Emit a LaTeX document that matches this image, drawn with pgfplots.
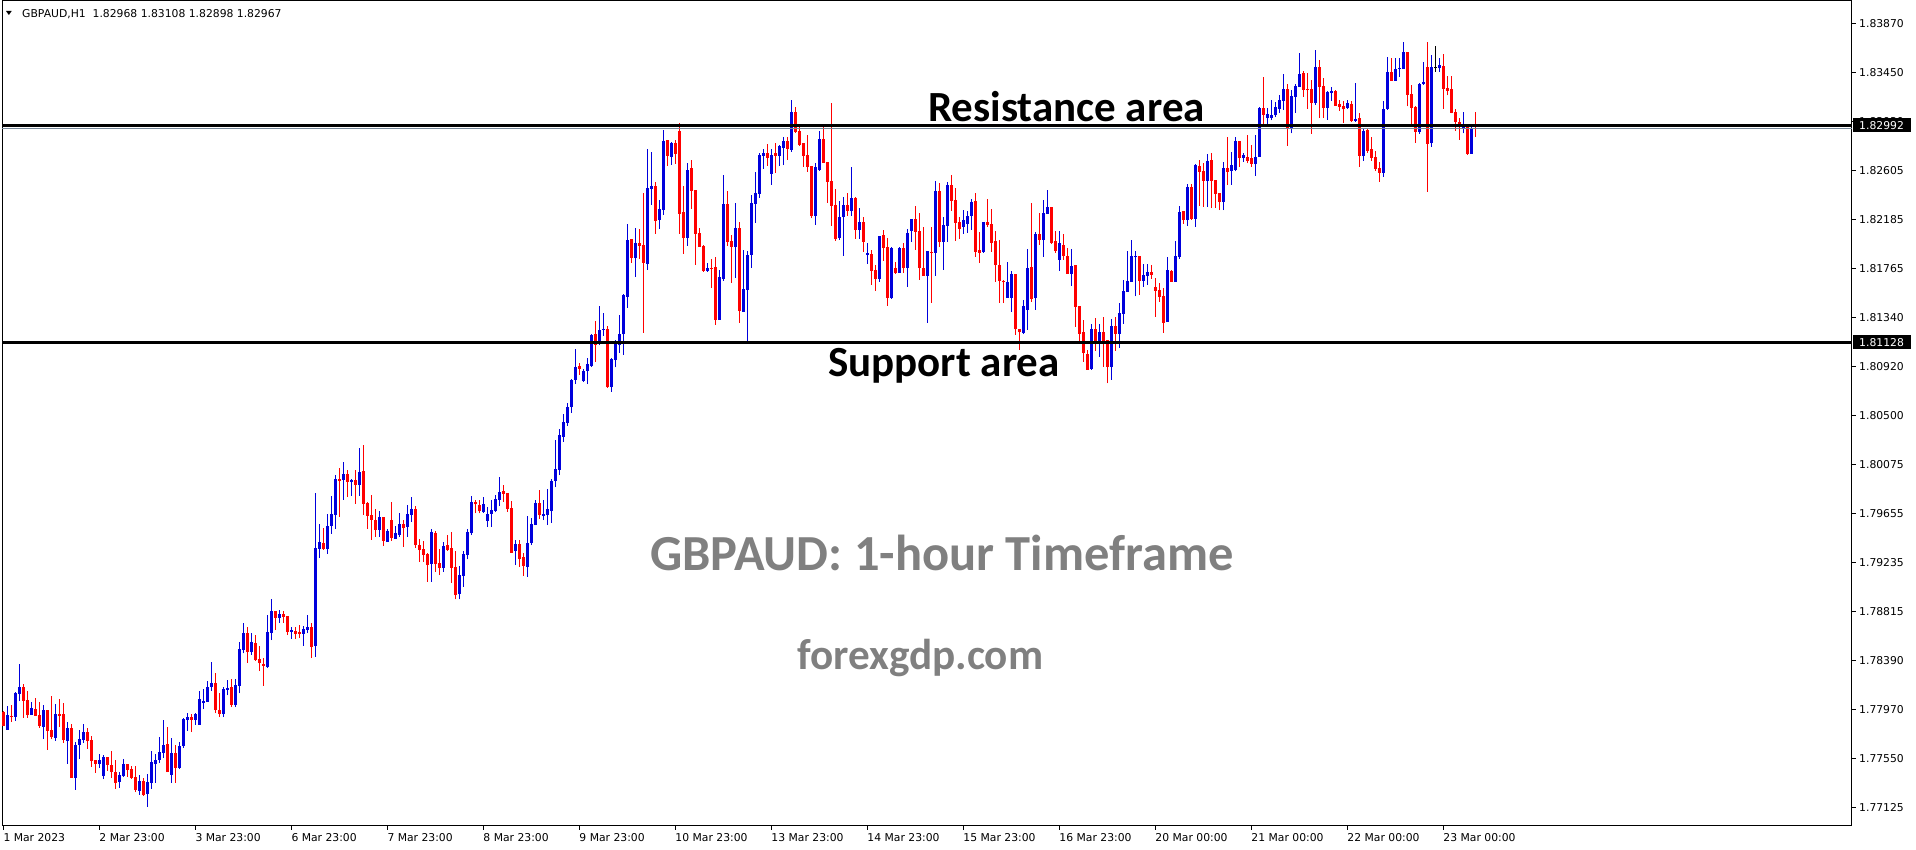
\documentclass[border=0pt]{standalone}
\usepackage{pgfplots}
\usepackage{pgfplotstable}
\pgfplotsset{compat=1.18}
\usepackage{fontspec}
\setmainfont{DejaVu Sans}
\newfontfamily\labelfont{Carlito}
\definecolor{upc}{RGB}{0,0,220}
\definecolor{dnc}{RGB}{255,0,0}
\definecolor{bidc}{RGB}{119,136,153}
\definecolor{wmark}{RGB}{128,128,128}

% GBPAUD H1 bars: index, open, high, low, close
\pgfplotstableread{
i o h l c
0 1.77951 1.77960 1.77828 1.77828
1 1.77794 1.78000 1.77794 1.77923
2 1.77917 1.78009 1.77865 1.77905
3 1.77908 1.78123 1.77874 1.78115
4 1.78103 1.78361 1.78046 1.78164
5 1.78164 1.78189 1.77900 1.78046
6 1.78052 1.78129 1.77900 1.77923
7 1.77923 1.78035 1.77923 1.77980
8 1.77974 1.78069 1.77917 1.77917
9 1.77923 1.78035 1.77814 1.77828
10 1.77822 1.78009 1.77716 1.77966
11 1.77966 1.77966 1.77622 1.77788
12 1.77794 1.78086 1.77713 1.77733
13 1.77728 1.78017 1.77702 1.77931
14 1.77931 1.78058 1.77822 1.77914
15 1.77931 1.78026 1.77685 1.77708
16 1.77702 1.77862 1.77504 1.77811
17 1.77811 1.77845 1.77384 1.77384
18 1.77384 1.77690 1.77280 1.77665
19 1.77665 1.77794 1.77544 1.77716
20 1.77708 1.77845 1.77685 1.77776
21 1.77776 1.77811 1.77633 1.77699
22 1.77708 1.77742 1.77478 1.77527
23 1.77535 1.77535 1.77427 1.77501
24 1.77501 1.77584 1.77470 1.77535
25 1.77398 1.77576 1.77372 1.77561
26 1.77561 1.77561 1.77444 1.77493
27 1.77493 1.77613 1.77384 1.77432
28 1.77432 1.77535 1.77289 1.77341
29 1.77349 1.77435 1.77297 1.77407
30 1.77398 1.77544 1.77392 1.77501
31 1.77501 1.77501 1.77392 1.77450
32 1.77458 1.77484 1.77372 1.77384
33 1.77389 1.77484 1.77260 1.77277
34 1.77272 1.77407 1.77237 1.77355
35 1.77355 1.77381 1.77229 1.77237
36 1.77243 1.77418 1.77134 1.77346
37 1.77341 1.77613 1.77289 1.77518
38 1.77501 1.77587 1.77341 1.77535
39 1.77535 1.77733 1.77513 1.77604
40 1.77599 1.77880 1.77553 1.77665
41 1.77673 1.77819 1.77432 1.77432
42 1.77407 1.77725 1.77341 1.77596
43 1.77596 1.77665 1.77341 1.77467
44 1.77467 1.77690 1.77458 1.77656
45 1.77656 1.77897 1.77639 1.77888
46 1.77880 1.77940 1.77788 1.77905
47 1.77905 1.77931 1.77776 1.77880
48 1.77880 1.77940 1.77837 1.77931
49 1.77837 1.78129 1.77837 1.78060
50 1.78026 1.78146 1.77974 1.78043
51 1.78035 1.78215 1.78035 1.78164
52 1.78164 1.78382 1.78132 1.78198
53 1.78198 1.78287 1.77940 1.77970
54 1.77970 1.78115 1.77905 1.77930
55 1.77930 1.78164 1.77905 1.78149
56 1.78141 1.78224 1.78092 1.78158
57 1.78164 1.78230 1.77990 1.78010
58 1.78010 1.78230 1.77990 1.78181
59 1.78175 1.78554 1.78109 1.78491
60 1.78482 1.78717 1.78453 1.78631
61 1.78631 1.78680 1.78373 1.78468
62 1.78468 1.78631 1.78439 1.78551
63 1.78542 1.78611 1.78390 1.78396
64 1.78405 1.78519 1.78301 1.78368
65 1.78365 1.78411 1.78173 1.78345
66 1.78336 1.78783 1.78327 1.78637
67 1.78631 1.78921 1.78568 1.78818
68 1.78818 1.78818 1.78654 1.78760
69 1.78760 1.78826 1.78717 1.78792
70 1.78792 1.78821 1.78717 1.78769
71 1.78775 1.78775 1.78611 1.78640
72 1.78640 1.78677 1.78577 1.78654
73 1.78646 1.78683 1.78577 1.78623
74 1.78637 1.78697 1.78585 1.78623
75 1.78623 1.78692 1.78519 1.78663
76 1.78657 1.78783 1.78628 1.78680
77 1.78680 1.78717 1.78413 1.78511
78 1.78519 1.79836 1.78425 1.79363
79 1.79354 1.79566 1.79277 1.79411
80 1.79403 1.79532 1.79343 1.79351
81 1.79354 1.79655 1.79311 1.79549
82 1.79549 1.79810 1.79483 1.79655
83 1.79647 1.79991 1.79526 1.79953
84 1.79953 1.80048 1.79629 1.79939
85 1.79948 1.80100 1.79776 1.79999
86 1.79999 1.80034 1.79801 1.79931
87 1.79931 1.79956 1.79810 1.79948
88 1.79948 1.80034 1.79741 1.79902
89 1.79905 1.80223 1.79810 1.80017
90 1.80025 1.80249 1.79647 1.79741
91 1.79750 1.79758 1.79526 1.79638
92 1.79644 1.79819 1.79431 1.79604
93 1.79604 1.79698 1.79457 1.79518
94 1.79518 1.79681 1.79457 1.79626
95 1.79626 1.79626 1.79380 1.79423
96 1.79414 1.79526 1.79414 1.79509
97 1.79601 1.79758 1.79423 1.79449
98 1.79440 1.79552 1.79440 1.79492
99 1.79472 1.79664 1.79457 1.79566
100 1.79569 1.79604 1.79371 1.79535
101 1.79543 1.79730 1.79457 1.79655
102 1.79643 1.79798 1.79586 1.79692
103 1.79692 1.79720 1.79362 1.79385
104 1.79385 1.79439 1.79242 1.79342
105 1.79348 1.79422 1.79242 1.79299
106 1.79308 1.79319 1.79069 1.79213
107 1.79221 1.79525 1.79069 1.79497
108 1.79488 1.79505 1.79155 1.79221
109 1.79230 1.79348 1.79127 1.79190
110 1.79190 1.79411 1.79155 1.79376
111 1.79385 1.79468 1.79336 1.79342
112 1.79359 1.79497 1.79061 1.79190
113 1.79196 1.79336 1.78917 1.78955
114 1.78963 1.79207 1.78917 1.79127
115 1.79121 1.79336 1.79027 1.79308
116 1.79299 1.79525 1.79262 1.79497
117 1.79485 1.79806 1.79471 1.79758
118 1.79758 1.79772 1.79657 1.79735
119 1.79729 1.79772 1.79657 1.79677
120 1.79666 1.79798 1.79663 1.79738
121 1.79594 1.79715 1.79543 1.79652
122 1.79652 1.79772 1.79543 1.79686
123 1.79680 1.79815 1.79666 1.79781
124 1.79772 1.79973 1.79720 1.79841
125 1.79850 1.79901 1.79758 1.79824
126 1.79830 1.79830 1.79672 1.79695
127 1.79703 1.79766 1.79319 1.79319
128 1.79336 1.79428 1.79213 1.79394
129 1.79394 1.79428 1.79198 1.79264
130 1.79282 1.79316 1.79118 1.79204
131 1.79196 1.79634 1.79113 1.79402
132 1.79402 1.79617 1.79385 1.79566
133 1.79557 1.79772 1.79557 1.79746
134 1.79746 1.79858 1.79609 1.79643
135 1.79634 1.79772 1.79600 1.79652
136 1.79643 1.79867 1.79557 1.79695
137 1.79677 1.79953 1.79577 1.79936
138 1.79936 1.80288 1.79884 1.80039
139 1.80030 1.80383 1.79987 1.80331
140 1.80317 1.80512 1.80274 1.80443
141 1.80437 1.80607 1.80412 1.80572
142 1.80572 1.80816 1.80524 1.80805
143 1.80805 1.81071 1.80770 1.80916
144 1.80925 1.80951 1.80848 1.80899
145 1.80796 1.80899 1.80787 1.80882
146 1.80882 1.80994 1.80770 1.80942
147 1.80925 1.81200 1.80919 1.81192
148 1.81200 1.81312 1.80962 1.81106
149 1.81134 1.81441 1.81106 1.81235
150 1.81235 1.81381 1.81186 1.81243
151 1.81243 1.81269 1.80739 1.80744
152 1.80744 1.80996 1.80704 1.80988
153 1.80976 1.81149 1.80914 1.81123
154 1.81109 1.81364 1.81040 1.81198
155 1.81198 1.81548 1.81023 1.81539
156 1.81522 1.82147 1.81427 1.82010
157 1.82018 1.82018 1.81814 1.81857
158 1.81857 1.82116 1.81694 1.81984
159 1.81984 1.82107 1.81849 1.81961
160 1.81966 1.82414 1.81212 1.81814
161 1.81806 1.82795 1.81754 1.82457
162 1.82448 1.82769 1.82313 1.82474
163 1.82474 1.82509 1.82064 1.82176
164 1.82182 1.82354 1.82107 1.82276
165 1.82270 1.82956 1.82227 1.82861
166 1.82870 1.82870 1.82649 1.82735
167 1.82724 1.82853 1.82658 1.82844
168 1.82844 1.82873 1.82666 1.82752
169 1.82950 1.83016 1.82064 1.82236
170 1.82250 1.82474 1.81892 1.82030
171 1.82030 1.82672 1.81958 1.82612
172 1.82629 1.82698 1.82279 1.82434
173 1.82443 1.82443 1.81797 1.82064
174 1.82073 1.82116 1.81952 1.81952
175 1.81961 1.81969 1.81737 1.81746
176 1.81746 1.81814 1.81737 1.81769
177 1.81769 1.81846 1.81599 1.81760
178 1.81780 1.81866 1.81281 1.81324
179 1.81324 1.81751 1.81324 1.81691
180 1.81674 1.82569 1.81657 1.82319
181 1.82319 1.82431 1.81961 1.81995
182 1.82004 1.82055 1.81642 1.81952
183 1.81952 1.82328 1.81685 1.82116
184 1.82116 1.82164 1.81298 1.81401
185 1.81393 1.81921 1.81393 1.81588
186 1.81579 1.81918 1.81120 1.81883
187 1.81880 1.82397 1.81771 1.82328
188 1.82319 1.82595 1.82159 1.82414
189 1.82405 1.82758 1.82374 1.82741
190 1.82735 1.82792 1.82620 1.82758
191 1.82758 1.82835 1.82649 1.82718
192 1.82577 1.82795 1.82483 1.82741
193 1.82758 1.82847 1.82586 1.82735
194 1.82735 1.82827 1.82646 1.82818
195 1.82804 1.82896 1.82652 1.82861
196 1.82861 1.82896 1.82698 1.82795
197 1.82787 1.83214 1.82770 1.83110
198 1.83110 1.83150 1.82930 1.82942
199 1.82947 1.83000 1.82821 1.82830
200 1.82844 1.82844 1.82640 1.82735
201 1.82741 1.82913 1.82598 1.82640
202 1.82646 1.82646 1.82196 1.82219
203 1.82219 1.82669 1.82141 1.82640
204 1.82615 1.82947 1.82606 1.82879
205 1.82879 1.83000 1.82675 1.82675
206 1.82684 1.82684 1.82331 1.82511
207 1.82517 1.83190 1.82133 1.82305
208 1.82311 1.82448 1.82004 1.82018
209 1.82027 1.82345 1.82010 1.82207
210 1.82207 1.82380 1.81875 1.82311
211 1.82311 1.82411 1.82219 1.82262
212 1.82262 1.82640 1.82219 1.82374
213 1.82374 1.82382 1.82021 1.82098
214 1.82098 1.82285 1.82021 1.82164
215 1.82164 1.82210 1.81909 1.81995
216 1.81883 1.81984 1.81803 1.81895
217 1.81889 1.81924 1.81625 1.81746
218 1.81754 1.81797 1.81574 1.81677
219 1.81677 1.82044 1.81651 1.82044
220 1.82053 1.82098 1.81832 1.81944
221 1.81949 1.82027 1.81445 1.81513
222 1.81513 1.81949 1.81505 1.81944
223 1.81772 1.81817 1.81720 1.81728
224 1.81728 1.81949 1.81728 1.81944
225 1.81944 1.81984 1.81723 1.81772
226 1.81772 1.82104 1.81608 1.82070
227 1.82090 1.82190 1.81995 1.82190
228 1.82190 1.82302 1.81926 1.82081
229 1.82090 1.82245 1.81668 1.81772
230 1.81772 1.82124 1.81703 1.81703
231 1.81703 1.81915 1.81298 1.81915
232 1.81906 1.82124 1.81470 1.81901
233 1.81901 1.82517 1.81703 1.82431
234 1.82431 1.82503 1.81952 1.81995
235 1.81995 1.82210 1.81754 1.82139
236 1.82133 1.82511 1.81995 1.82483
237 1.82483 1.82569 1.82262 1.82348
238 1.82354 1.82454 1.82004 1.82159
239 1.82167 1.82210 1.82021 1.82107
240 1.82124 1.82268 1.82064 1.82182
241 1.82150 1.82259 1.82073 1.82216
242 1.82216 1.82362 1.82098 1.82339
243 1.82345 1.82417 1.81866 1.81909
244 1.81924 1.82081 1.81809 1.81901
245 1.81909 1.82164 1.81901 1.82164
246 1.82164 1.82365 1.82124 1.82141
247 1.82147 1.82276 1.81909 1.81987
248 1.82001 1.82087 1.81651 1.81792
249 1.81794 1.82010 1.81470 1.81660
250 1.81660 1.81666 1.81465 1.81645
251 1.81513 1.81823 1.81513 1.81651
252 1.81513 1.81746 1.81393 1.81717
253 1.81717 1.81717 1.81192 1.81241
254 1.81241 1.81241 1.81063 1.81215
255 1.81212 1.81493 1.81200 1.81442
256 1.81407 1.81932 1.81235 1.81769
257 1.81777 1.82328 1.81479 1.81505
258 1.81513 1.82079 1.81407 1.82061
259 1.82061 1.82245 1.81970 1.82010
260 1.82010 1.82354 1.81866 1.82242
261 1.82236 1.82440 1.82236 1.82294
262 1.82294 1.82294 1.81975 1.81987
263 1.82001 1.82087 1.81901 1.81915
264 1.81840 1.82087 1.81746 1.81984
265 1.81967 1.82061 1.81840 1.81875
266 1.81872 1.81941 1.81717 1.81717
267 1.81717 1.81932 1.81617 1.81786
268 1.81795 1.81795 1.81264 1.81436
269 1.81445 1.81445 1.81135 1.81204
270 1.81218 1.81321 1.80960 1.81035
271 1.81029 1.81063 1.80891 1.80891
272 1.80900 1.81287 1.80891 1.81244
273 1.81244 1.81339 1.81057 1.81126
274 1.81126 1.81287 1.81006 1.81218
275 1.81218 1.81347 1.80920 1.81126
276 1.81149 1.81149 1.80776 1.80920
277 1.80920 1.81330 1.80805 1.81270
278 1.81270 1.81347 1.81057 1.81201
279 1.81201 1.81468 1.81083 1.81382
280 1.81373 1.81665 1.81287 1.81571
281 1.81562 1.81915 1.81562 1.81657
282 1.81651 1.82010 1.81648 1.81872
283 1.81860 1.81915 1.81524 1.81872
284 1.81872 1.81872 1.81537 1.81657
285 1.81660 1.81803 1.81608 1.81709
286 1.81703 1.81803 1.81623 1.81734
287 1.81734 1.81795 1.81674 1.81709
288 1.81605 1.81683 1.81350 1.81574
289 1.81580 1.81637 1.81479 1.81522
290 1.81528 1.81597 1.81212 1.81296
291 1.81304 1.81863 1.81304 1.81752
292 1.81743 1.81752 1.81648 1.81651
293 1.81651 1.82004 1.81648 1.81872
294 1.81866 1.82302 1.81849 1.82251
295 1.82259 1.82259 1.82147 1.82182
296 1.82182 1.82492 1.82130 1.82466
297 1.82466 1.82492 1.82182 1.82193
298 1.82193 1.82664 1.82124 1.82655
299 1.82646 1.82700 1.82302 1.82597
300 1.82603 1.82669 1.82296 1.82520
301 1.82520 1.82749 1.82296 1.82689
302 1.82697 1.82761 1.82287 1.82520
303 1.82525 1.82525 1.82287 1.82408
304 1.82416 1.82416 1.82267 1.82339
305 1.82339 1.82683 1.82267 1.82632
306 1.82632 1.82895 1.82482 1.82597
307 1.82606 1.82766 1.82485 1.82654
308 1.82612 1.82895 1.82600 1.82861
309 1.82861 1.82861 1.82640 1.82718
310 1.82718 1.82761 1.82683 1.82741
311 1.82723 1.82913 1.82669 1.82692
312 1.82715 1.82827 1.82640 1.82666
313 1.82666 1.82913 1.82563 1.82723
314 1.82723 1.83153 1.82723 1.83145
315 1.83145 1.83414 1.83004 1.83085
316 1.83062 1.83145 1.83004 1.83093
317 1.83062 1.83214 1.83039 1.83085
318 1.83082 1.83197 1.83065 1.83153
319 1.83136 1.83257 1.83102 1.83217
320 1.83208 1.83437 1.83131 1.83308
321 1.83308 1.83351 1.82821 1.82967
322 1.82967 1.83300 1.82927 1.83248
323 1.83242 1.83354 1.83105 1.83334
324 1.83329 1.83618 1.83323 1.83440
325 1.83449 1.83463 1.83242 1.83300
326 1.83305 1.83446 1.83136 1.83297
327 1.83308 1.83386 1.82924 1.83188
328 1.83185 1.83644 1.83174 1.83501
329 1.83501 1.83558 1.83059 1.83328
330 1.83334 1.83403 1.83059 1.83148
331 1.83148 1.83291 1.83045 1.83283
332 1.83277 1.83326 1.83205 1.83291
333 1.83291 1.83300 1.83162 1.83165
334 1.83179 1.83214 1.83119 1.83156
335 1.83162 1.83205 1.83019 1.83133
336 1.83145 1.83214 1.83136 1.83188
337 1.83179 1.83205 1.83024 1.83033
338 1.83033 1.83363 1.83027 1.83053
339 1.83059 1.83102 1.82640 1.82732
340 1.82732 1.82964 1.82692 1.82950
341 1.82956 1.82973 1.82761 1.82778
342 1.82792 1.82895 1.82689 1.82718
343 1.82723 1.82775 1.82606 1.82623
344 1.82632 1.82680 1.82511 1.82589
345 1.82589 1.83208 1.82554 1.83136
346 1.83136 1.83587 1.83128 1.83458
347 1.83458 1.83575 1.83380 1.83380
348 1.83380 1.83578 1.83380 1.83480
349 1.83478 1.83578 1.83412 1.83492
350 1.83483 1.83713 1.83480 1.83627
351 1.83627 1.83627 1.83159 1.83260
352 1.83265 1.83343 1.82984 1.83148
353 1.83153 1.83159 1.82847 1.82941
354 1.82941 1.83363 1.82921 1.83351
355 1.83351 1.83541 1.83343 1.83371
356 1.83501 1.83713 1.82425 1.82838
357 1.82841 1.83598 1.82812 1.83501
358 1.83486 1.83678 1.83458 1.83486
359 1.83486 1.83575 1.83458 1.83518
360 1.83509 1.83610 1.83139 1.83311
361 1.83320 1.83423 1.83254 1.83294
362 1.83308 1.83423 1.83099 1.83105
363 1.83113 1.83136 1.82950 1.83022
364 1.83027 1.83059 1.82872 1.83007
365 1.82976 1.83113 1.82927 1.82984
366 1.82981 1.83004 1.82743 1.82752
367 1.82752 1.82984 1.82752 1.82976
368 1.82968 1.83108 1.82898 1.82967
}\ohlc

\begin{document}
\begin{tikzpicture}
\begin{axis}[
    at={(0,0)}, anchor=south west,
    scale only axis,
    width=1850pt, height=825pt,
    xmin=-0.325, xmax=462.175,
    ymin=1.76968, ymax=1.84065,
    axis line style={black, line width=1pt},
    xtick pos=left, ytick pos=right, yticklabel pos=right,
    tick align=outside,
    major tick length=4pt,
    tick style={black, line width=1pt},
    xtick={0,24,...,360},
    xticklabels={1 Mar 2023,2 Mar 23:00,3 Mar 23:00,6 Mar 23:00,7 Mar 23:00,8 Mar 23:00,9 Mar 23:00,10 Mar 23:00,13 Mar 23:00,14 Mar 23:00,15 Mar 23:00,16 Mar 23:00,20 Mar 00:00,21 Mar 00:00,22 Mar 00:00,23 Mar 00:00},
    ytick={1.77125,1.77550,1.77970,1.78390,1.78815,1.79235,1.79655,1.80075,1.80500,1.80920,1.81340,1.81765,1.82185,1.82605,1.83030,1.83450,1.83870},
    yticklabels={1.77125,1.77550,1.77970,1.78390,1.78815,1.79235,1.79655,1.80075,1.80500,1.80920,1.81340,1.81765,1.82185,1.82605,1.83030,1.83450,1.83870},
    xticklabel style={anchor=north west, inner sep=0pt, yshift=-3pt, font=\fontsize{10.8}{12}\selectfont},
    yticklabel style={anchor=west, inner sep=0pt, xshift=3pt, font=\fontsize{10.8}{12}\selectfont},
]
% wicks
\addplot[draw=none, forget plot,
    restrict expr to domain={\thisrow{c}-\thisrow{o}}{0.0000005:1},
    error bars/.cd, y dir=plus, y explicit, error mark=none,
    error bar style={draw=upc, line width=1pt}]
    table[x=i, y=l, y error expr=\thisrow{h}-\thisrow{l}] {\ohlc};
\addplot[draw=none, forget plot,
    restrict expr to domain={\thisrow{c}-\thisrow{o}}{-1:-0.0000005},
    error bars/.cd, y dir=plus, y explicit, error mark=none,
    error bar style={draw=dnc, line width=1pt}]
    table[x=i, y=l, y error expr=\thisrow{h}-\thisrow{l}] {\ohlc};
\addplot[draw=none, forget plot,
    restrict expr to domain={\thisrow{c}-\thisrow{o}}{-0.0000005:0.0000005},
    error bars/.cd, y dir=plus, y explicit, error mark=none,
    error bar style={draw=black, line width=1pt}]
    table[x=i, y=l, y error expr=\thisrow{h}-\thisrow{l}] {\ohlc};
% bodies
\addplot[draw=none, forget plot,
    restrict expr to domain={\thisrow{c}-\thisrow{o}}{0.0000005:1},
    error bars/.cd, y dir=plus, y explicit, error mark=none,
    error bar style={draw=upc, line width=2.7pt}]
    table[x=i, y=o, y error expr={max(\thisrow{c}-\thisrow{o},0.00008)}] {\ohlc};
\addplot[draw=none, forget plot,
    restrict expr to domain={\thisrow{c}-\thisrow{o}}{-1:-0.0000005},
    error bars/.cd, y dir=plus, y explicit, error mark=none,
    error bar style={draw=dnc, line width=2.7pt}]
    table[x=i, y=c, y error expr={max(\thisrow{o}-\thisrow{c},0.00008)}] {\ohlc};
\addplot[draw=none, forget plot,
    restrict expr to domain={\thisrow{c}-\thisrow{o}}{-0.0000005:0.0000005},
    error bars/.cd, y dir=plus, y explicit, error mark=none,
    error bar style={draw=black, line width=2.7pt}]
    table[x=i, y=o, y error expr=0.00008] {\ohlc};
% horizontal lines: resistance, bid, support
\addplot[black, line width=3pt, forget plot] coordinates {(-0.325,1.82992) (462.175,1.82992)};
\addplot[bidc, line width=1pt, forget plot] coordinates {(-0.325,1.82967) (462.175,1.82967)};
\addplot[black, line width=3pt, forget plot] coordinates {(-0.325,1.81128) (462.175,1.81128)};
\end{axis}
% price tags on the right scale
\fill[black] (1851pt,693.7pt) rectangle (1909pt,707.7pt);
\node[anchor=west, inner sep=0pt, white, font=\fontsize{10.8}{12}\selectfont] at (1857pt,700.7pt) {1.82992};
\fill[black] (1851pt,476.7pt) rectangle (1909pt,490.7pt);
\node[anchor=west, inner sep=0pt, white, font=\fontsize{10.8}{12}\selectfont] at (1857pt,483.7pt) {1.81128};
% header
\fill[black] (4pt,815pt) -- (9.7pt,815pt) -- (6.85pt,811pt) -- cycle;
\node[anchor=base west, inner sep=0pt, font=\fontsize{10.8}{12}\selectfont] at (20pt,808.7pt) {GBPAUD,H1\ \ 1.82968 1.83108 1.82898 1.82967};
% annotations
\node[anchor=base west, inner sep=0pt, font=\labelfont\bfseries\fontsize{43}{48}\selectfont] at (926pt,704.8pt) {Resistance area};
\node[anchor=base west, inner sep=0pt, font=\labelfont\bfseries\fontsize{43}{48}\selectfont] at (826pt,449pt) {Support area};
\node[anchor=base west, inner sep=0pt, wmark, font=\labelfont\bfseries\fontsize{50.5}{56}\selectfont] at (648pt,255pt) {GBPAUD: 1-hour Timeframe};
\node[anchor=base west, inner sep=0pt, wmark, font=\labelfont\bfseries\fontsize{43.2}{48}\selectfont] at (795pt,156pt) {forexgdp.com};
\pgfresetboundingbox
\path (-2pt,-24pt) rectangle (1914pt,826pt);
\end{tikzpicture}
\end{document}
